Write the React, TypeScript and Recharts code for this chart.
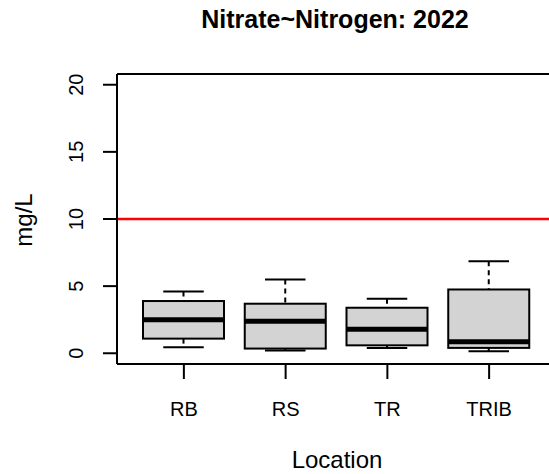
import {
  ComposedChart,
  Bar,
  XAxis,
  YAxis,
  ReferenceLine,
  Label,
  Customized,
} from "recharts";

// sampling locations and the five-number summaries (mg/L)
const locations = ["RB", "RS", "TR", "TRIB"];
const whiskerLow = [0.45, 0.2, 0.4, 0.15];
const q1 = [1.09, 0.35, 0.59, 0.4];
const median = [2.5, 2.38, 1.78, 0.85];
const q3 = [3.89, 3.69, 3.39, 4.75];
const whiskerHigh = [4.6, 5.49, 4.06, 6.85];

const yTicks = [0, 5, 10, 15, 20];
const yDomain = [-0.8, 20.8];
const limit = 10; // drinking water standard

const data = locations.map((name, i) => ({
  name,
  low: whiskerLow[i],
  q1: q1[i],
  med: median[i],
  q3: q3[i],
  high: whiskerHigh[i],
}));

const FONT = "'Liberation Sans', Arial, sans-serif";

// draws box, median and dashed whiskers from the q1..q3 bar rectangle
function BoxShape(props: any) {
  const { x, y, width, height, payload } = props;
  const top = Math.min(y, y + height);
  const h = Math.abs(height);
  const ppu = h / (payload.q3 - payload.q1);
  const toY = (v: number) => top + (payload.q3 - v) * ppu;
  const cx = x + width / 2;
  const cap = width / 4;
  return (
    <g>
      <line x1={cx} x2={cx} y1={toY(payload.high)} y2={top} stroke="#000" strokeWidth={2} strokeDasharray="5 4" />
      <line x1={cx} x2={cx} y1={top + h} y2={toY(payload.low)} stroke="#000" strokeWidth={2} strokeDasharray="5 4" />
      <line x1={cx - cap} x2={cx + cap} y1={toY(payload.high)} y2={toY(payload.high)} stroke="#000" strokeWidth={2} />
      <line x1={cx - cap} x2={cx + cap} y1={toY(payload.low)} y2={toY(payload.low)} stroke="#000" strokeWidth={2} />
      <rect x={x} y={top} width={width} height={h} fill="#d3d3d3" stroke="#000" strokeWidth={2} />
      <line x1={x} x2={x + width} y1={toY(payload.med)} y2={toY(payload.med)} stroke="#000" strokeWidth={5} />
    </g>
  );
}

function YTick(props: any) {
  const { x, y, payload } = props;
  const px = x - 18;
  return (
    <text x={px} y={y} transform={`rotate(-90, ${px}, ${y})`} textAnchor="middle" fontSize={20} fontFamily={FONT} fill="#000">
      {payload.value}
    </text>
  );
}

function XTick(props: any) {
  const { x, y, payload } = props;
  return (
    <text x={x} y={y + 35} textAnchor="middle" fontSize={20} fontFamily={FONT} fill="#000">
      {payload.value}
    </text>
  );
}

const Title = () => (
  <text x={335} y={28} textAnchor="middle" fontSize={25} fontWeight="bold" fontFamily={FONT} fill="#000">
    Nitrate~Nitrogen: 2022
  </text>
);

const axisStroke = { stroke: "#000", strokeWidth: 2 };

export default function App() {
  return (
    <div style={{ position: "absolute", left: 0, top: 0, width: 549, height: 474, overflow: "hidden", background: "#fff" }}>
      <ComposedChart width={600} height={474} data={data} margin={{ top: 74, right: 44, left: 0, bottom: 0 }}>
        <XAxis
          dataKey="name"
          height={110}
          padding={{ left: 16, right: 16 }}
          axisLine={axisStroke}
          tickLine={axisStroke}
          tickSize={15}
          tick={<XTick />}
          interval={0}
        >
          <Label
            content={() => (
              <text x={337} y={468} textAnchor="middle" fontSize={24} fontFamily={FONT} fill="#000">
                Location
              </text>
            )}
          />
        </XAxis>
        <YAxis
          width={117}
          domain={yDomain}
          ticks={yTicks}
          axisLine={axisStroke}
          tickLine={axisStroke}
          tickSize={14}
          tick={<YTick />}
          interval={0}
        >
          <Label
            content={() => (
              <text x={32} y={220} transform="rotate(-90, 32, 220)" textAnchor="middle" fontSize={24} fontFamily={FONT} fill="#000">
                mg/L
              </text>
            )}
          />
        </YAxis>
        {/* top edge of the plot frame */}
        <ReferenceLine y={yDomain[1]} stroke="#000" strokeWidth={2} />
        <ReferenceLine y={limit} stroke="#ff0000" strokeWidth={2.5} />
        <Bar dataKey={(d: any) => [d.q1, d.q3]} barSize={81} shape={<BoxShape />} isAnimationActive={false} />
        <Customized component={Title} />
      </ComposedChart>
    </div>
  );
}
